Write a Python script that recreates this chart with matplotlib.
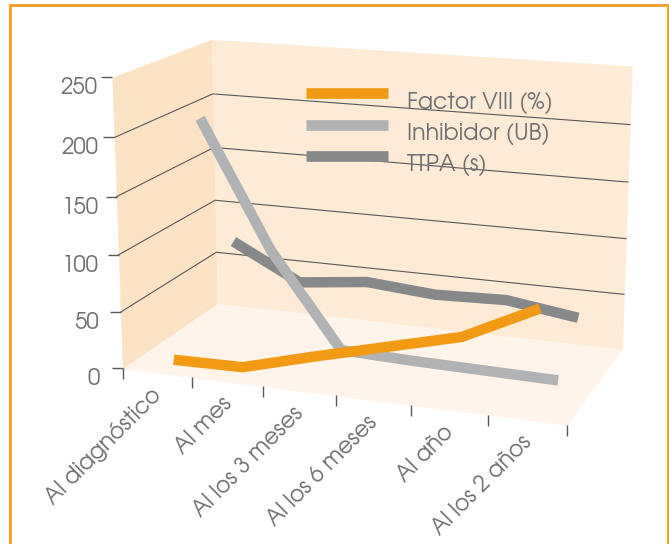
import numpy as np
import matplotlib
matplotlib.use('Agg')
import matplotlib.pyplot as plt
from matplotlib.lines import Line2D
from matplotlib.patches import Rectangle
from matplotlib.markers import TICKLEFT, TICKDOWN
from mpl_toolkits.mplot3d import proj3d
from mpl_toolkits.mplot3d.art3d import Poly3DCollection

# ---- data -------------------------------------------------------------
categories = ['Al diagnóstico', 'Al mes', 'Al los 3 meses', 'Al los 6 meses',
              'Al año', 'Al los 2 años']
factor_viii = [1, 2, 19, 35, 51, 82]        # Factor VIII (%)
inhibidor = [199, 87, 4, 2, 1, 0]           # Inhibidor (UB)
ttpa = [72, 40, 47, 42, 44, 35]             # TTPA (s)
series_labels = ['Factor VIII (%)', 'Inhibidor (UB)', 'TTPA (s)']
value_ticks = [0, 50, 100, 150, 200, 250]

# ---- style ------------------------------------------------------------
plt.rcParams['font.family'] = ['TeX Gyre Adventor', 'Didact Gothic', 'DejaVu Sans']
FS = 16
TEXT = '#6D6E70'
GRID = '#58585A'
ORANGE = '#F39A14'
series_colors = [ORANGE, '#B1B2B4', '#87888A']
wall_left, wall_back, wall_floor = '#FCE3C4', '#FDEBD5', '#FEF4E9'

W, H = 669, 544
S = 544                      # square 3D axes, in pixels
cx, cy = 368.75, 225.39      # centre of the 3D axes (pixels from top-left)

fig = plt.figure(figsize=(W / 100, H / 100), dpi=100)
ax = fig.add_axes([(cx - S / 2) / W, (H - cy - S / 2) / H, S / W, S / H],
                  projection='3d', computed_zorder=False)
ax.set_axis_off()
ax.patch.set_alpha(0)

n = len(categories)
depth = 3.0
zmax = value_ticks[-1]
ax.set_xlim(0, n)
ax.set_ylim(0, depth)
ax.set_zlim(0, zmax)
ax.view_init(elev=15.04, azim=-70.10)
ax.set_proj_type('persp', focal_length=0.6513)
ax.set_box_aspect((1, 0.4992, 0.6476), zoom=1.0574)
M = ax.get_proj()


def screen(x, y, z):
    """Projected 2D data coordinates of a 3D point."""
    px, py, _ = proj3d.proj_transform(x, y, z, M)
    return float(px), float(py)


# ---- walls and floor --------------------------------------------------
walls = [
    ([(0, 0, 0), (0, depth, 0), (0, depth, zmax), (0, 0, zmax)], wall_left),
    ([(0, depth, 0), (n, depth, 0), (n, depth, zmax), (0, depth, zmax)], wall_back),
    ([(0, 0, 0), (n, 0, 0), (n, depth, 0), (0, depth, 0)], wall_floor),
]
for poly, col in walls:
    ax.add_collection3d(Poly3DCollection([poly], facecolor=col, edgecolor=col,
                                         linewidth=0.3, zorder=0))

# horizontal gridlines across the side wall and the back wall
for g in value_ticks[1:-1]:
    ax.plot([0, 0, n], [0, depth, depth], [g, g, g], color=GRID, lw=0.8, zorder=1)

# ---- axis ticks and labels -------------------------------------------
ax.plot([0] * len(value_ticks), [0] * len(value_ticks), value_ticks,
        linestyle='none', marker=TICKLEFT, ms=8, mew=1.0, color=GRID, zorder=1)
ax.plot(np.arange(n + 1), [0] * (n + 1), [0] * (n + 1),
        linestyle='none', marker=TICKDOWN, ms=8, mew=1.0, color=GRID, zorder=1)

for v in value_ticks:
    dx = -15 - 8 * (1 - v / zmax)
    ax.annotate(str(v), xy=screen(0, 0, v), xycoords='data',
                xytext=(dx, -17), textcoords='offset pixels',
                ha='right', va='baseline', fontsize=FS, color=TEXT)

for i, lab in enumerate(categories):
    ax.annotate(lab, xy=screen(i + 0.5, 0, 0), xycoords='data',
                xytext=(1, -19), textcoords='offset pixels',
                rotation=45, rotation_mode='anchor', ha='right', va='center',
                fontsize=FS, color=TEXT)

# ---- series ribbons (front to back) ----------------------------------
xs = np.arange(n) + 0.5
for k, (vals, col) in enumerate(zip([factor_viii, inhibidor, ttpa], series_colors)):
    ax.plot(xs, [depth * (2 * k + 1) / 6] * n, vals, color=col, lw=7.5,
            solid_capstyle='butt', solid_joinstyle='miter', zorder=10 - k)

# ---- legend -----------------------------------------------------------
for k, (lab, col) in enumerate(zip(series_labels, series_colors)):
    yl = 93.3 + 31.4 * k
    fig.add_artist(Line2D([306 / W, 388 / W], [1 - yl / H, 1 - yl / H],
                          color=col, lw=7.7, solid_capstyle='butt'))
    fig.text(407 / W, 1 - (yl + 15) / H, lab, fontsize=FS, color=TEXT,
             ha='left', va='baseline')

# ---- frame ------------------------------------------------------------
fig.add_artist(Rectangle((9.6 / W, -0.05), (668.2 - 9.6) / W, 1.05 - 5.3 / H,
                         transform=fig.transFigure, fill=False,
                         edgecolor='#F49C1C', lw=2.0, clip_on=False))

fig.savefig('out.png', dpi=100)
